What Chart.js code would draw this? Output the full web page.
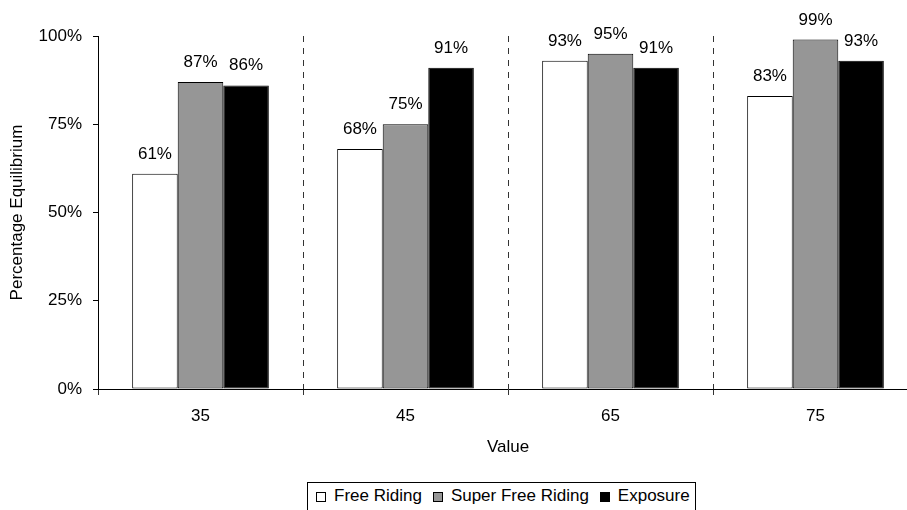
<!DOCTYPE html>
<html>
<head>
<meta charset="utf-8">
<script src="https://cdn.jsdelivr.net/npm/chart.js@4/dist/chart.umd.min.js"></script>
<style>
  html, body { margin: 0; padding: 0; background: #fff; overflow: hidden; }
  #wrap { position: relative; width: 907px; height: 510px; overflow: hidden; }
  #chart { position: absolute; left: 0; top: 0; }
  #legend {
    position: absolute; left: 307px; top: 482px; height: 30px;
    border: 1px solid #000; background: #fff; box-sizing: border-box;
    display: flex; align-items: center; padding: 0 5px 2px 8px;
    font: 17px "Liberation Sans", Arial, sans-serif; color: #000; white-space: nowrap;
  }
  #legend .item { display: flex; align-items: center; margin-right: 11px; }
  #legend .item:last-child { margin-right: 0; }
  #legend .box { width: 8px; height: 8px; border: 1px solid #000; margin-right: 8px; margin-top: 2px; }
</style>
</head>
<body>
<div id="wrap">
  <canvas id="chart" width="918" height="510"></canvas>
  <div id="legend"></div>
</div>
<script>
const categories = ['35', '45', '65', '75'];
const freeRiding = [61, 68, 93, 83];
const superFreeRiding = [87, 75, 95, 99];
const exposure = [86, 91, 91, 93];
const yTicks = [0, 25, 50, 75, 100];

const FONT = '"Liberation Sans", Arial, sans-serif';

const series = [
  { label: 'Free Riding', data: freeRiding, color: '#ffffff' },
  { label: 'Super Free Riding', data: superFreeRiding, color: '#969696' },
  { label: 'Exposure', data: exposure, color: '#000000' }
];

// Percentage label above every bar
const valueLabels = {
  id: 'valueLabels',
  afterDatasetsDraw(chart) {
    const ctx = chart.ctx;
    ctx.save();
    ctx.font = '17px ' + FONT;
    ctx.fillStyle = '#000';
    ctx.textAlign = 'center';
    ctx.textBaseline = 'alphabetic';
    chart.data.datasets.forEach((ds, i) => {
      chart.getDatasetMeta(i).data.forEach((bar, j) => {
        ctx.fillText(ds.data[j] + '%', bar.x, bar.y - 15);
      });
    });
    ctx.restore();
  }
};

new Chart(document.getElementById('chart'), {
  type: 'bar',
  data: {
    labels: categories,
    datasets: series.map(s => ({
      label: s.label,
      data: s.data,
      backgroundColor: s.color,
      borderColor: '#000',
      borderWidth: 1,
      borderSkipped: false,
      categoryPercentage: 3 / 4.5,
      barPercentage: 1
    }))
  },
  options: {
    responsive: false,
    animation: false,
    layout: { padding: { top: 36, left: 0, right: 0, bottom: 0 } },
    plugins: { legend: { display: false }, tooltip: { enabled: false } },
    scales: {
      x: {
        offset: true,
        afterFit(scale) { scale.height = 121; },
        grid: {
          offset: true,
          color: '#333',
          lineWidth: 1,
          drawTicks: true,
          tickLength: 6,
          tickColor: '#333'
        },
        border: { display: true, color: '#000', width: 1, dash: [6, 6] },
        ticks: { color: '#000', padding: 11, font: { family: FONT, size: 17 } },
        title: {
          display: true, text: 'Value', color: '#000',
          font: { family: FONT, size: 17 },
          padding: { top: 0, bottom: 52 }
        }
      },
      y: {
        min: 0, max: 100,
        afterFit(scale) { scale.width = 98; },
        afterBuildTicks(scale) { scale.ticks = yTicks.map(v => ({ value: v })); },
        grid: { drawOnChartArea: false, drawTicks: true, tickLength: 5, color: '#000' },
        border: { display: true, color: '#000', width: 1 },
        ticks: {
          color: '#000', padding: 11, font: { family: FONT, size: 17 },
          callback: v => v + '%'
        },
        title: {
          display: true, text: 'Percentage Equilibrium', color: '#000',
          font: { family: FONT, size: 17 },
          padding: { top: 7, bottom: 0 }
        }
      }
    }
  },
  plugins: [valueLabels]
});

// Legend row
const legend = document.getElementById('legend');
series.forEach(s => {
  const item = document.createElement('span');
  item.className = 'item';
  const box = document.createElement('span');
  box.className = 'box';
  box.style.background = s.color;
  const txt = document.createElement('span');
  txt.textContent = s.label;
  item.appendChild(box);
  item.appendChild(txt);
  legend.appendChild(item);
});
</script>
</body>
</html>
